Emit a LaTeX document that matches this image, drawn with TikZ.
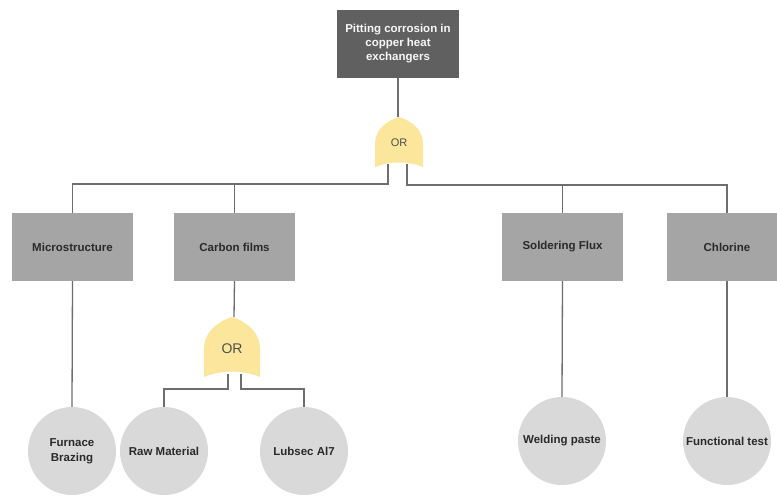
\documentclass[tikz,border=0pt]{standalone}
\usepackage{fontspec}
\setmainfont{Liberation Sans}
\definecolor{topgray}{HTML}{606060}
\definecolor{boxgray}{HTML}{A5A5A5}
\definecolor{circgray}{HTML}{D9D9D9}
\definecolor{linegray}{HTML}{6E6E6E}
\definecolor{gateyellow}{HTML}{FCE69B}
\definecolor{txt}{HTML}{2A2A2A}
\definecolor{ortxt}{HTML}{4E4E4E}
\begin{document}
\begin{tikzpicture}[x=1pt,y=-1pt,
  topbox/.style={fill=topgray, minimum width=122pt, minimum height=68pt, inner sep=0pt, align=center,
    text=white!94!gray, font=\bfseries\fontsize{11.5}{14}\selectfont},
  box/.style={fill=boxgray, minimum width=121pt, minimum height=68pt, inner sep=0pt,
    text=txt, font=\bfseries\fontsize{11.5}{13}\selectfont},
  leaf/.style={circle, fill=circgray, minimum size=88pt, inner sep=0pt, align=center,
    text=txt, font=\bfseries\fontsize{11.5}{15}\selectfont},
  conn/.style={draw=linegray, line width=1.3pt},
  ortext/.style={text=ortxt, inner sep=0pt},
  orgate/.pic={\fill[gateyellow] (-24,25) -- (-24,2) .. controls (-24,-12) and (-13,-21) .. (0,-25)
      .. controls (13,-21) and (24,-12) .. (24,2) -- (24,25)
      .. controls (10,19) and (-10,19) .. (-24,25) -- cycle;}]
\clip (0,0) rectangle (777,496);
\fill[white] (0,0) rectangle (777,496);

% top event
\node[topbox] (top) at (398,44) {Pitting corrosion in\\copper heat\\exchangers};

% gate 1
\pic at (399,142) {orgate};
\node[ortext, font=\fontsize{11}{12}\selectfont] (g1) at (399,143) {OR};
\coordinate (g1T) at (398,117);
\coordinate (g1L) at (388,164);
\coordinate (g1R) at (407,164);
\coordinate (busL) at (388,184);
\coordinate (busR) at (407,185);

% intermediate boxes
\node[box] (micro) at (72.5,247) {Microstructure};
\node[box] (carbon) at (234.5,247) {Carbon films};
\node[box] (solder) at (562.5,247) {Soldering Flux};
\node[box] (chlor) at (727,247) {Chlorine};

% gate 2
\pic[xscale=1.17, yscale=1.2] at (232,347) {orgate};
\node[ortext, font=\fontsize{14}{15}\selectfont] (g2) at (232,349) {OR};
\coordinate (g2T) at (234,317);
\coordinate (g2L) at (228,374);
\coordinate (g2R) at (241,374);
\coordinate (bus2L) at (228,389);
\coordinate (bus2R) at (241,389);

% basic events
\node[leaf] (furn) at (72,451) {Furnace\\Brazing};
\node[leaf] (raw) at (164,451) {Raw Material};
\node[leaf] (lub) at (304,451) {Lubsec Al7};
\node[leaf] (weld) at (562,441) {Welding paste};
\node[leaf] (func) at (727,441) {Functional test};

% connectors
\draw[conn] (top.south) -- (g1T);
\draw[conn] (g1L) -- (busL) -| (micro.north);
\draw[conn] (carbon.north) -- (carbon.north |- busL);
\draw[conn] (g1R) -- (busR) -| (chlor.north);
\draw[conn] (solder.north) -- (solder.north |- busR);
\draw[conn] (micro.south) -- (furn.north);
\draw[conn] (carbon.south) -- (g2T);
\draw[conn] (g2L) -- (bus2L) -| (raw.north);
\draw[conn] (g2R) -- (bus2R) -| (lub.north);
\draw[conn] (solder.south) -- (weld.north);
\draw[conn] (chlor.south) -- (func.north);
\end{tikzpicture}
\end{document}
